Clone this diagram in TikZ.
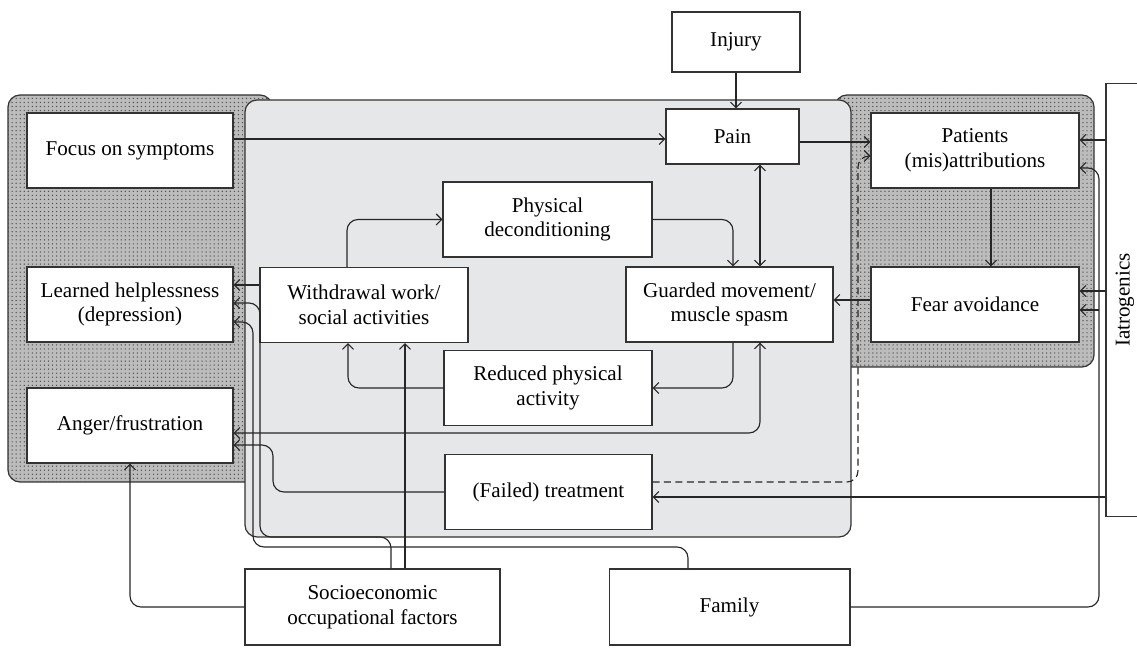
\documentclass[tikz,border=0pt]{standalone}
\usepackage{fontspec}
\setmainfont{Liberation Serif}
\usetikzlibrary{arrows.meta,patterns,backgrounds}
\pgfdeclarepatternformonly{panelDots}{\pgfqpoint{-1pt}{-1pt}}{\pgfqpoint{1pt}{1pt}}{\pgfqpoint{2.3pt}{2.3pt}}%
  {\pgfpathcircle{\pgfqpoint{0pt}{0pt}}{0.4pt}\pgfusepath{fill}}
\begin{document}
\begin{tikzpicture}[x=0.02cm,y=-0.02cm,
  box/.style={draw=black!80, line width=0.6pt, fill=white, align=center, inner sep=0pt,
    minimum width=4.16cm, minimum height=1.5cm, font=\fontsize{12}{14}\selectfont},
  conn/.style={draw=black!85, line width=0.65pt},
  arr/.style={conn, -{Straight Barb[length=1.1mm,width=2.2mm]}},
  arr2/.style={conn, {Straight Barb[length=1.1mm,width=2.2mm]}-{Straight Barb[length=1.1mm,width=2.2mm]}},
  rc/.style={rounded corners=0.22cm},
  dotpanel/.style={draw=black!80, line width=0.7pt, rounded corners=0.24cm,
    preaction={fill={rgb,255:red,188;green,188;blue,188}}, pattern=panelDots, pattern color=black!70},
  graypanel/.style={draw=black!80, line width=0.7pt, rounded corners=0.24cm,
    fill={rgb,255:red,230;green,231;blue,232}}]
\useasboundingbox (0,0) rectangle (1137,648);

% nodes
\node[box, minimum width=2.56cm, minimum height=1.2cm] (injury) at (736,42) {Injury};
\node[box, minimum width=2.66cm, minimum height=1.1cm] (pain) at (732.5,136.5) {Pain};
\node[box, minimum width=4.12cm] (focus) at (130,150.5) {Focus on symptoms};
\node[box, minimum width=4.12cm] (learned) at (130,304.5) {Learned helplessness\\(depression)};
\node[box, minimum width=4.12cm] (anger) at (130,425.5) {Anger/frustration};
\node[box, minimum width=4.18cm] (phys) at (547.5,219.5) {Physical\\deconditioning};
\node[box] (withdrawal) at (364,305) {Withdrawal work/\\social activities};
\node[box, minimum width=4.14cm] (guarded) at (729.5,304.5) {Guarded movement/\\muscle spasm};
\node[box] (reduced) at (548,388) {Reduced physical\\activity};
\node[box, minimum width=4.14cm] (treatment) at (548.5,492) {(Failed) treatment};
\node[box, minimum width=5.1cm, minimum height=1.52cm] (socio) at (372.5,607) {Socioeconomic\\occupational factors};
\node[box, minimum width=4.82cm, minimum height=1.52cm] (family) at (729.5,607) {Family};
\node[box] (patients) at (975,150.5) {Patients\\(mis)attributions};
\node[box] (fear) at (975,304.5) {Fear avoidance};
\node[box, rotate=90, minimum width=8.68cm, minimum height=0.76cm] (iat) at (1125,300) {Iatrogenics};
\coordinate (famj) at (1099,310);

% panels
\begin{pgfonlayer}{background}
\path[dotpanel] (8,95) rectangle (272,482);
\path[dotpanel] (835,95) rectangle (1094,367);
\path[graypanel] (245,100) rectangle (851,537);
\end{pgfonlayer}

% connectors
\draw[arr] (injury.south) -- (injury.south |- pain.north);
\draw[arr] (focus.east |- 0,139) -- (pain.west |- 0,139);
\draw[arr] (pain.east |- 0,142) -- (patients.west |- 0,142);
\draw[arr2] (pain.south -| 760,0) -- (guarded.north -| 760,0);
\draw[arr, rc] (phys.east) -| (guarded.north -| 733,0);
\draw[arr, rc] (withdrawal.north -| 347,0) |- (phys.west);
\draw[arr, rc] (guarded.south -| 733,0) |- (reduced.east);
\draw[arr, rc] (reduced.west) -| (withdrawal.south -| 348,0);
\draw[arr] (withdrawal.west |- 0,285) -- (learned.east |- 0,285);
\draw[arr2, rc] (guarded.south -| 760,0) |- (anger.east |- 0,433);
\draw[arr, rc] (treatment.west) -| (273,445) -- (anger.east |- 0,445);
\draw[arr, rc] (socio.north -| 391,0) |- (260,537) |- (learned.east |- 0,303);
\draw[arr, rc] (family.north -| 688,0) |- (253,547) |- (learned.east |- 0,322);
\draw[arr] (socio.north -| 405,0) -- (withdrawal.south -| 405,0);
\draw[arr, rc] (socio.west) -| (anger.south);
\draw[arr, rc] (family.east) -| (1099,168) -- (patients.east |- 0,168);
\draw[arr] (famj) -- (fear.east |- famj);
\draw[arr] (iat.north |- 0,140) -- (patients.east |- 0,140);
\draw[arr] (iat.north |- 0,291) -- (fear.east |- 0,291);
\draw[arr] (iat.north |- 0,497) -- (treatment.east |- 0,497);
\draw[arr] (patients.south -| 991,0) -- (fear.north -| 991,0);
\draw[arr] (fear.west |- 0,300) -- (guarded.east |- 0,300);
\draw[arr, dash pattern=on 4pt off 2.5pt, rc] (treatment.east |- 0,482) -| (858,156) -- (patients.west |- 0,156);
\end{tikzpicture}
\end{document}
